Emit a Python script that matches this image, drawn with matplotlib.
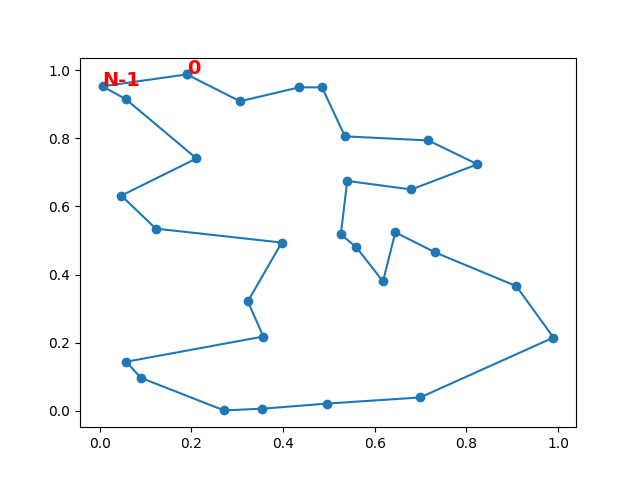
import matplotlib
matplotlib.use('Agg')
import matplotlib.pyplot as plt

# tour order, city 0 first
xs = [0.190, 0.306, 0.435, 0.485, 0.535, 0.717, 0.824, 0.680, 0.540, 0.526,
      0.560, 0.618, 0.645, 0.732, 0.909, 0.990, 0.699, 0.496, 0.355, 0.271,
      0.089, 0.058, 0.357, 0.323, 0.397, 0.122, 0.047, 0.211, 0.057, 0.006]
ys = [0.988, 0.909, 0.950, 0.950, 0.806, 0.794, 0.724, 0.650, 0.675, 0.518,
      0.480, 0.380, 0.524, 0.465, 0.366, 0.215, 0.039, 0.021, 0.006, 0.001,
      0.097, 0.144, 0.218, 0.321, 0.494, 0.535, 0.632, 0.741, 0.915, 0.953]
labels = ['0', 'N-1']

fig = plt.figure(figsize=(6.4, 4.8), dpi=100)
plt.plot(xs + [xs[0]], ys + [ys[0]], 'o-')
plt.text(xs[0], ys[0], labels[0], color='red', fontsize=14, fontweight='bold')
plt.text(xs[-1], ys[-1], labels[1], color='red', fontsize=14, fontweight='bold')
plt.savefig('out.png')
